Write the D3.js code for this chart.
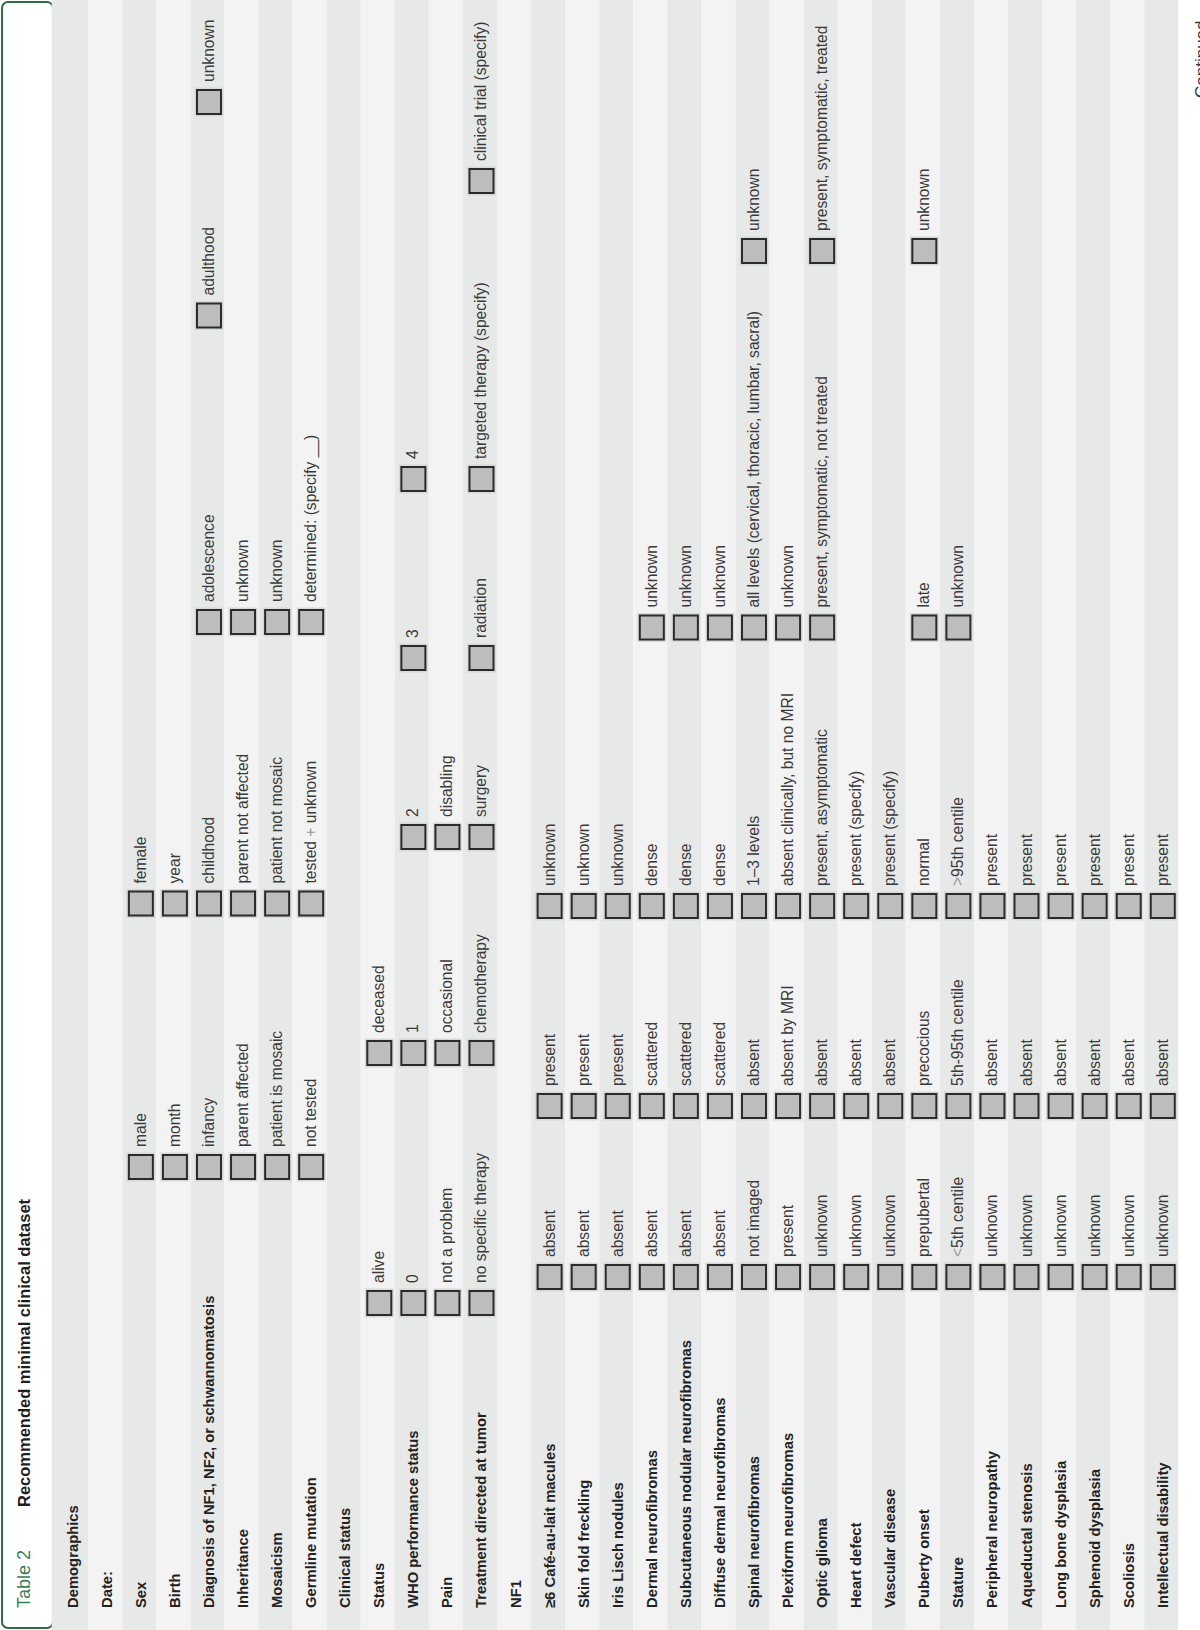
<!DOCTYPE html>
<html>
<head>
<meta charset="utf-8">
<script src="https://cdn.jsdelivr.net/npm/d3@7"></script>
<style>
  html, body { margin: 0; padding: 0; background: #fff; }
  svg { display: block; font-family: "Liberation Sans", Arial, Helvetica, sans-serif; }
</style>
</head>
<body>
<svg width="1200" height="1630"></svg>
<script>
const svg = d3.select("svg");
const width = +svg.attr("width");
const height = +svg.attr("height");

/* ==========================
   DATA
========================== */

const tableNumber = "Table 2";
const tableTitle = "Recommended minimal clinical dataset";
const continuedNote = "Continued";

const sectionHeaders = ["Demographics", "Clinical status", "NF1"];

const demographicsRows = [
    "Date:", "Sex", "Birth", "Diagnosis of NF1, NF2, or schwannomatosis",
    "Inheritance", "Mosaicism", "Germline mutation"
];
const demographicsOptions = [
    [],
    ["male", "female"],
    ["month", "year"],
    ["infancy", "childhood", "adolescence", "adulthood", "unknown"],
    ["parent affected", "parent not affected", "unknown"],
    ["patient is mosaic", "patient not mosaic", "unknown"],
    ["not tested", "tested + unknown", "determined: (specify __)"]
];

const clinicalRows = ["Status", "WHO performance status", "Pain", "Treatment directed at tumor"];
const clinicalOptions = [
    ["alive", "deceased"],
    ["0", "1", "2", "3", "4"],
    ["not a problem", "occasional", "disabling"],
    ["no specific therapy", "chemotherapy", "surgery", "radiation",
     "targeted therapy (specify)", "clinical trial (specify)"]
];

const nf1Rows = [
    "≥6 Café-au-lait macules", "Skin fold freckling", "Iris Lisch nodules",
    "Dermal neurofibromas", "Subcutaneous nodular neurofibromas", "Diffuse dermal neurofibromas",
    "Spinal neurofibromas", "Plexiform neurofibromas", "Optic glioma", "Heart defect",
    "Vascular disease", "Puberty onset", "Stature", "Peripheral neuropathy",
    "Aqueductal stenosis", "Long bone dysplasia", "Sphenoid dysplasia", "Scoliosis",
    "Intellectual disability"
];
const nf1Options = [
    ["absent", "present", "unknown"],
    ["absent", "present", "unknown"],
    ["absent", "present", "unknown"],
    ["absent", "scattered", "dense", "unknown"],
    ["absent", "scattered", "dense", "unknown"],
    ["absent", "scattered", "dense", "unknown"],
    ["not imaged", "absent", "1–3 levels", "all levels (cervical, thoracic, lumbar, sacral)", "unknown"],
    ["present", "absent by MRI", "absent clinically, but no MRI", "unknown"],
    ["unknown", "absent", "present, asymptomatic", "present, symptomatic, not treated", "present, symptomatic, treated"],
    ["unknown", "absent", "present (specify)"],
    ["unknown", "absent", "present (specify)"],
    ["prepubertal", "precocious", "normal", "late", "unknown"],
    ["<5th centile", "5th-95th centile", ">95th centile", "unknown"],
    ["unknown", "absent", "present"],
    ["unknown", "absent", "present"],
    ["unknown", "absent", "present"],
    ["unknown", "absent", "present"],
    ["unknown", "absent", "present"],
    ["unknown", "absent", "present"]
];

/* ==========================
   LAYOUT
========================== */

// the page is printed sideways: u runs along the text, v across the rows
const tableTop = 51.7;
const firstRowTop = 54.2;
const tableBottom = 1178.3;
const labelX = 22;

// checkbox centres along the text direction, one grid per section
const sectionGrids = {
    "Demographics": [463, 726.5, 1008, 1314.5, 1528],
    "Clinical status": [327, 577, 793, 972, 1151, 1449],
    "NF1": [353, 524, 724, 1002.5, 1379]
};

const rows = [];
[[demographicsRows, demographicsOptions], [clinicalRows, clinicalOptions], [nf1Rows, nf1Options]]
    .forEach(([labels, options], s) => {
        rows.push({ label: sectionHeaders[s], options: [], section: sectionHeaders[s] });
        labels.forEach((label, i) => {
            rows.push({ label: label, options: options[i], section: sectionHeaders[s] });
        });
    });

const v = d3.scaleBand()
    .domain(d3.range(rows.length))
    .range([firstRowTop, tableBottom]);

const columnScales = {};
Object.keys(sectionGrids).forEach(k => {
    columnScales[k] = d3.scaleOrdinal()
        .domain(d3.range(sectionGrids[k].length))
        .range(sectionGrids[k]);
});

const g = svg.append("g")
    .attr("transform", `translate(0,${height}) rotate(-90)`);

/* ==========================
   TITLE BOX
========================== */

g.append("rect")
    .attr("x", 2)
    .attr("y", 2)
    .attr("width", height - 4)
    .attr("height", 51)
    .attr("rx", 6)
    .attr("fill", "#fff")
    .attr("stroke", "#2f6b47")
    .attr("stroke-width", 2);

g.append("text")
    .attr("x", labelX)
    .attr("y", 30)
    .attr("font-size", 18)
    .attr("fill", "#3b7d57")
    .text(tableNumber);

g.append("text")
    .attr("x", 123)
    .attr("y", 30)
    .attr("font-size", 16.5)
    .attr("font-weight", "bold")
    .attr("fill", "#1e1e1e")
    .text(tableTitle);

/* ==========================
   STRIPES + LABELS
========================== */

const rowG = g.selectAll("g.row")
    .data(rows)
    .join("g")
    .attr("class", "row");

rowG.append("rect")
    .attr("x", 0)
    .attr("width", height)
    .attr("y", (d, i) => i === 0 ? tableTop : v(i))
    .attr("height", (d, i) => i === 0 ? v(i) + v.bandwidth() - tableTop : v.bandwidth())
    .attr("fill", (d, i) => i % 2 === 0 ? "#e7e9e8" : "#f3f3f3");

rowG.append("text")
    .attr("x", labelX)
    .attr("y", (d, i) => v(i) + v.bandwidth() / 2 + 6.5)
    .attr("font-size", 14.8)
    .attr("font-weight", "bold")
    .attr("fill", "#222")
    .text(d => d.label);

/* ==========================
   CHECKBOXES
========================== */

const boxSize = 24;

rows.forEach((row, i) => {
    const cv = v(i) + v.bandwidth() / 2 + 1.5;
    const col = columnScales[row.section];

    row.options.forEach((opt, j) => {
        const cu = col(j);

        g.append("rect")
            .attr("x", cu - boxSize / 2 - 2.5)
            .attr("y", cv - boxSize / 2 - 2.5)
            .attr("width", boxSize + 5)
            .attr("height", boxSize + 5)
            .attr("fill", "#d8d8d8");

        g.append("rect")
            .attr("x", cu - boxSize / 2)
            .attr("y", cv - boxSize / 2)
            .attr("width", boxSize)
            .attr("height", boxSize)
            .attr("fill", "#bdbdbd")
            .attr("stroke", "#2b2b2b")
            .attr("stroke-width", 2);

        const t = g.append("text")
            .attr("x", cu + 20)
            .attr("y", v(i) + v.bandwidth() / 2 + 6.5)
            .attr("font-size", 15.6)
            .attr("fill", "#3a3a3a");

        // symbols are printed lighter
        opt.split(/([<>+])/).filter(s => s.length).forEach(part => {
            t.append("tspan")
                .attr("fill", /^[<>+]$/.test(part) ? "#9a9a9a" : null)
                .text(part);
        });
    });
});

/* ==========================
   PAGE NOTE
========================== */

g.append("text")
    .attr("x", 1532)
    .attr("y", 1207)
    .attr("font-size", 17)
    .attr("fill", "#333")
    .text(continuedNote);
</script>
</body>
</html>
